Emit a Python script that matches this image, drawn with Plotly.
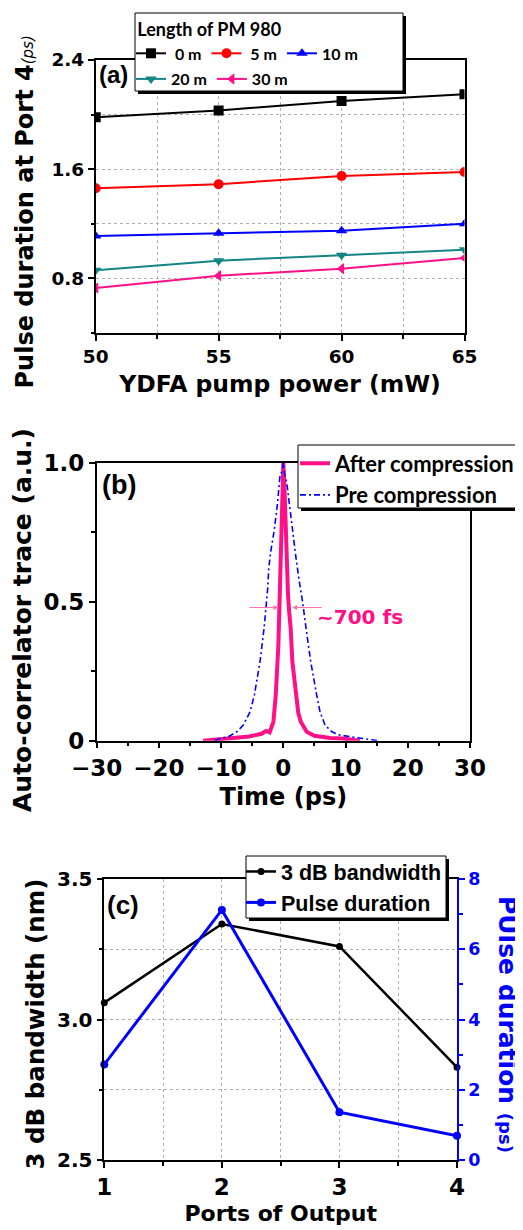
import plotly.graph_objects as go

# The page places the figure 8 px from the top-left corner of the window,
# so the figure is 8 px smaller and reference pixels are shifted by 8.
OFF = 8
W, H = 523 - OFF, 1230 - OFF


def fx(p):
    return (p - OFF) / W


def fy(p):
    return 1 - (p - OFF) / H


# ---------------- data: panel (a) ----------------
pump_power = [50, 55, 60, 65]
pm_0m = [1.98, 2.03, 2.10, 2.15]
pm_5m = [1.46, 1.49, 1.55, 1.58]
pm_10m = [1.11, 1.13, 1.15, 1.20]
pm_20m = [0.86, 0.93, 0.97, 1.01]
pm_30m = [0.73, 0.82, 0.87, 0.95]
a_names = ["\u00a00 m", "\u00a05 m", "10 m", "20 m", "30 m"]
a_xticks = [50, 55, 60, 65]
a_yticks = [0.8, 1.6, 2.4]

# ---------------- data: panel (b) ----------------
after_t = [-12.9, -11, -9, -7, -5.5, -4.5, -3.5, -2.8, -2.2, -1.6, -1.22, -0.8, -0.61,
           -0.4, -0.2, 0.0, 0.2, 0.45, 0.75, 0.95, 1.18, 1.45, 1.99, 2.4, 2.8, 3.75,
           5.0, 5.9, 7.5, 9.5, 11, 12.3]
after_v = [0.0, 0.003, 0.006, 0.01, 0.015, 0.02, 0.025, 0.035, 0.03, 0.068, 0.164, 0.344,
           0.524, 0.72, 0.9, 1.0, 0.9, 0.7, 0.524, 0.46, 0.404, 0.284, 0.164, 0.1, 0.068,
           0.032, 0.018, 0.014, 0.01, 0.008, 0.005, 0.0]
pre_t = [-11.0, -10.2, -8.84, -7.5, -6.43, -5.35, -4.66, -3.75, -3.1, -2.67, -2.51, -2.35,
         -2.03, -1.5, -0.96, -0.53, -0.2, 0.0, 0.25, 0.54, 0.97, 1.5, 2.04, 2.57, 3.05,
         3.65, 4.4, 5.36, 5.9, 6.7, 7.8, 9.1, 10.5, 11.8, 13.0, 14.4, 15.2]
pre_v = [0.0, 0.008, 0.014, 0.032, 0.056, 0.104, 0.164, 0.284, 0.404, 0.506, 0.548, 0.62,
         0.68, 0.752, 0.848, 0.955, 0.97, 1.0, 0.95, 0.93, 0.848, 0.752, 0.656, 0.572,
         0.506, 0.404, 0.284, 0.164, 0.104, 0.056, 0.032, 0.02, 0.015, 0.01, 0.006, 0.003, 0.0]
b_xticks = [-30, -20, -10, 0, 10, 20, 30]
b_yticks = [0, 0.5, 1.0]
b_yticktext = ["0", "0.5", "1.0"]
fwhm_y = 0.479
fwhm_tips = [-0.8, 1.4]
fwhm_tails = [-5.7, 6.4]

# ---------------- data: panel (c) ----------------
ports = [1, 2, 3, 4]
bandwidth_nm = [3.06, 3.34, 3.26, 2.83]
pulse_ps = [2.72, 7.12, 1.36, 0.69]
c_xticks = [1, 2, 3, 4]
c_yticks = [2.5, 3.0, 3.5]
c_y2ticks = [0, 2, 4, 6, 8]

PINK = "#FF1087"
TEAL = "#138585"
BLUE = "#0000FF"
DJ = "DejaVu Sans"
AR = "Liberation Sans"
LATO = "Lato"
GRID = "#b0b0b0"

fig = go.Figure()

# panel (a)
a_series = [
    (pm_0m, "black", "square", "legend"),
    (pm_5m, "#FF0000", "circle", "legend"),
    (pm_10m, BLUE, "triangle-up", "legend"),
    (pm_20m, TEAL, "triangle-down", "legend2"),
    (pm_30m, PINK, "triangle-left", "legend2"),
]
for name, (vals, col, sym, lg) in zip(a_names, a_series):
    fig.add_trace(go.Scatter(
        x=pump_power, y=vals, name=name, mode="lines+markers",
        line=dict(color=col, width=2), marker=dict(color=col, symbol=sym, size=10),
        xaxis="x", yaxis="y", legend=lg))

# panel (b)
fig.add_trace(go.Scatter(x=after_t, y=after_v, name="After compression", mode="lines",
                         line=dict(color=PINK, width=4), xaxis="x2", yaxis="y2",
                         legend="legend3"))
fig.add_trace(go.Scatter(x=pre_t, y=pre_v, name="Pre compression", mode="lines",
                         line=dict(color=BLUE, width=1.6, dash="6px,3px,2px,3px"),
                         xaxis="x2", yaxis="y2", legend="legend3"))

# panel (c)
fig.add_trace(go.Scatter(x=ports, y=bandwidth_nm, name="3 dB bandwidth", mode="lines+markers",
                         line=dict(color="black", width=2.5), marker=dict(color="black", size=7),
                         xaxis="x3", yaxis="y3", legend="legend4", cliponaxis=False))
fig.add_trace(go.Scatter(x=ports, y=pulse_ps, name="Pulse duration", mode="lines+markers",
                         line=dict(color=BLUE, width=3), marker=dict(color=BLUE, size=8),
                         xaxis="x3", yaxis="y4", legend="legend4", cliponaxis=False))


def tfont(size, color="black", family=DJ):
    return dict(family=family, size=size, color=color, weight="bold")


base = dict(showline=True, linecolor="black", linewidth=1.5, ticks="outside", ticklen=6,
            tickwidth=1.5, tickcolor="black", zeroline=False, showgrid=False)

fig.update_layout(
    width=W, height=H, margin=dict(l=0, r=0, t=0, b=0), autosize=False,
    template="none", paper_bgcolor="white", plot_bgcolor="white", showlegend=True,
    xaxis=dict(base, domain=[fx(95.7), fx(464.5)], anchor="y", range=[50, 65],
               tickvals=a_xticks, mirror=True, tickfont=tfont(18.5),
               showgrid=True, gridcolor=GRID, griddash="dot", gridwidth=1,
               minor=dict(dtick=2.5, tick0=50, ticks="outside", ticklen=4, tickcolor="black",
                          showgrid=True, gridcolor=GRID, griddash="dot"),
               title=dict(text="YDFA pump power (mW)", font=tfont(23.5), standoff=10)),
    yaxis=dict(base, domain=[fy(333), fy(60)], anchor="x", range=[0.4, 2.4],
               tickvals=a_yticks, tickformat=".1f", mirror=True, tickfont=tfont(18.5),
               showgrid=True, gridcolor=GRID, griddash="dot", gridwidth=1,
               minor=dict(dtick=0.4, tick0=0.4, ticks="outside", ticklen=3, tickcolor="black",
                          showgrid=True, gridcolor=GRID, griddash="dot")),
    xaxis2=dict(base, domain=[fx(96.7), fx(470)], anchor="y2", range=[-30, 30],
                tickvals=b_xticks, mirror=True, tickfont=tfont(23),
                minor=dict(dtick=5, tick0=0, ticks="outside", ticklen=4, tickcolor="black"),
                title=dict(text="Time (ps)", font=tfont(24), standoff=8)),
    yaxis2=dict(base, domain=[fy(740.7), fy(462.7)], anchor="x2", range=[0, 1],
                tickvals=b_yticks, ticktext=b_yticktext, mirror=True, tickfont=tfont(23),
                minor=dict(dtick=0.25, tick0=0, ticks="outside", ticklen=4, tickcolor="black")),
    xaxis3=dict(base, domain=[fx(104.3), fx(457)], anchor="y3", range=[1, 4],
                tickvals=c_xticks, mirror=True, tickfont=tfont(23),
                showgrid=True, gridcolor=GRID, griddash="dot", gridwidth=1,
                minor=dict(dtick=0.5, tick0=1, ticks="outside", ticklen=4, tickcolor="black",
                           showgrid=True, gridcolor=GRID, griddash="dot"),
                title=dict(text="Ports of Output", font=tfont(22), standoff=6)),
    yaxis3=dict(base, domain=[fy(1160), fy(879)], anchor="x3", range=[2.5, 3.5],
                tickvals=c_yticks, tickformat=".1f", tickfont=tfont(20),
                showgrid=True, gridcolor=GRID, griddash="dot", gridwidth=1,
                minor=dict(dtick=0.25, tick0=2.5, ticks="outside", ticklen=4, tickcolor="black",
                           showgrid=True, gridcolor=GRID, griddash="dot")),
    yaxis4=dict(base, overlaying="y3", side="right", anchor="x3", range=[0, 8],
                tickvals=c_y2ticks, linecolor=BLUE, tickcolor=BLUE, tickfont=tfont(17.5, BLUE),
                minor=dict(dtick=1, tick0=0, ticks="outside", ticklen=4, tickcolor=BLUE)),
    legend=dict(x=fx(131), y=fy(13), xanchor="left", yanchor="top", orientation="h",
                bgcolor="rgba(0,0,0,0)", borderwidth=0,
                font=dict(family=LATO, size=16, color="black", weight="bold"),
                title=dict(text="\u00a0Length of PM 980", side="top",
                           font=dict(family=LATO, size=18, color="black", weight="bold"))),
    legend2=dict(x=fx(131), y=fy(62), xanchor="left", yanchor="top", orientation="h",
                 bgcolor="rgba(0,0,0,0)", borderwidth=0,
                 font=dict(family=LATO, size=16, color="black", weight="bold")),
    legend3=dict(x=fx(295), y=fy(442.5), xanchor="left", yanchor="top",
                 bgcolor="rgba(0,0,0,0)", borderwidth=0,
                 font=dict(family=LATO, size=22, color="black", weight="bold")),
    legend4=dict(x=fx(241), y=fy(851), xanchor="left", yanchor="top",
                 bgcolor="rgba(0,0,0,0)", borderwidth=0,
                 font=dict(family=AR, size=21.5, color="black", weight="bold")),
)

# legend boxes with drop shadow
boxes = [(135, 13, 403, 91), (298, 445, 517, 508), (246, 856, 446, 918)]
shapes = []
for (x0, y0, x1, y1) in boxes:
    shapes.append(dict(type="rect", xref="paper", yref="paper", layer="above",
                       x0=fx(x0 + 3), x1=fx(x1 + 3), y0=fy(y1 + 3), y1=fy(y0 + 3),
                       fillcolor="black", line=dict(width=0)))
    shapes.append(dict(type="rect", xref="paper", yref="paper", layer="above",
                       x0=fx(x0), x1=fx(x1), y0=fy(y1), y1=fy(y0),
                       fillcolor="white", line=dict(color="black", width=1)))
fig.update_layout(shapes=shapes)


def label(text, x, y, font, angle=0):
    return dict(text=text, x=fx(x), y=fy(y), xref="paper", yref="paper", showarrow=False,
                xanchor="center", yanchor="middle", textangle=angle, font=font)


ann = [
    label("(a)", 113, 75, tfont(24, family=AR)),
    label("(b)", 118.5, 485, tfont(27, family=AR)),
    label("(c)", 122.5, 905, tfont(26, family=AR)),
    label("~700 fs", 359.5, 617, tfont(20, PINK)),
    label("Pulse duration at Port 4<i><span style='font-size:15px;font-weight:normal'>(ps)</span></i>",
          24, 212.5, tfont(24), -90),
    label("Auto-correlator trace (a.u.)", 22, 620, tfont(25), -90),
    label("3 dB bandwidth (nm)", 35, 1024.5, tfont(24.5), -90),
    label("PUlse duration <span style='font-size:18px'>(ps)</span>", 507, 1024,
          tfont(25, BLUE), 90),
]
for tip, tail in zip(fwhm_tips, fwhm_tails):
    ann.append(dict(text="", x=tip, y=fwhm_y, ax=tail, ay=fwhm_y, xref="x2", yref="y2",
                    axref="x2", ayref="y2", showarrow=True, arrowhead=2, arrowsize=1,
                    arrowwidth=1, arrowcolor="#FF70B0"))
fig.update_layout(annotations=ann)

fig.write_html("out.html")
